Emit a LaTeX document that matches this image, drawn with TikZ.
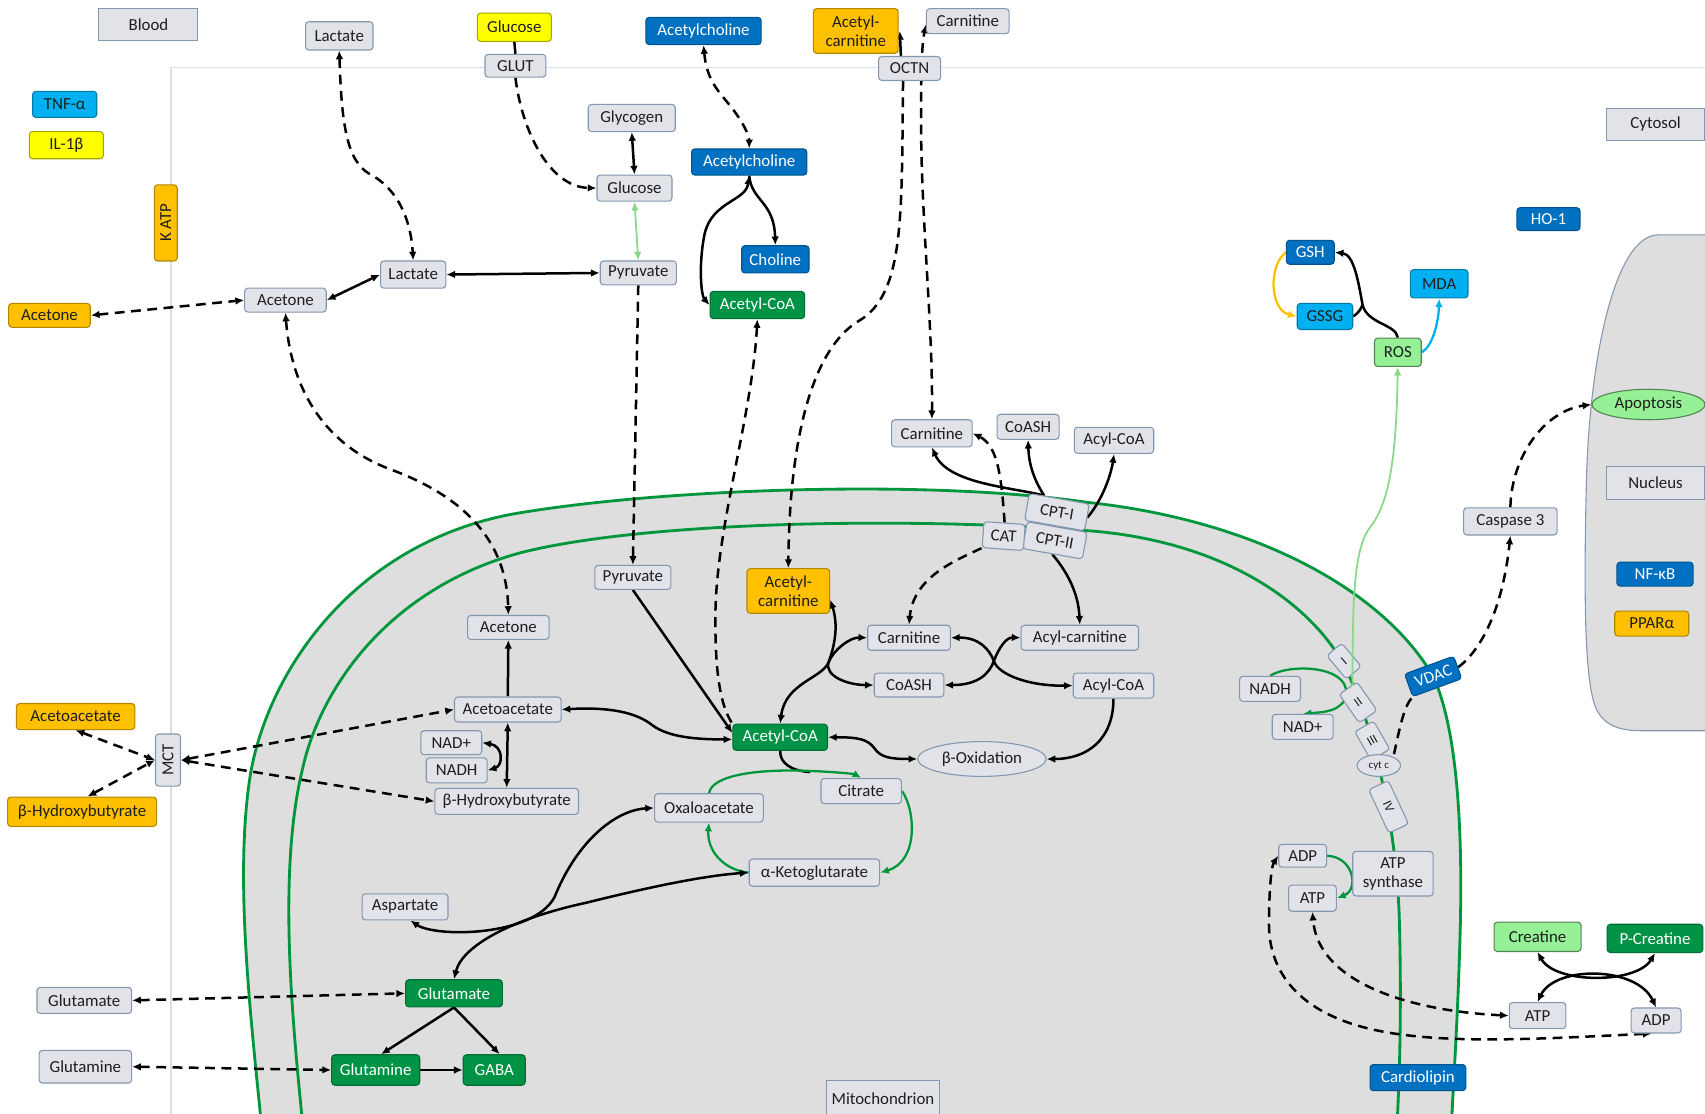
\documentclass[tikz,border=0pt]{standalone}
\usepackage{fontspec}
\setmainfont{Carlito}
\usetikzlibrary{arrows.meta,calc,shapes.geometric}
\pgfdeclarelayer{back}
\pgfdeclarelayer{conn}
\pgfsetlayers{back,conn,main}
\definecolor{boxfill}{RGB}{225,227,232}
\definecolor{boxdraw}{RGB}{132,151,176}
\definecolor{mitofill}{RGB}{222,222,222}
\definecolor{dblue}{RGB}{0,112,192}
\definecolor{lblue}{RGB}{0,176,240}
\definecolor{orng}{RGB}{255,192,0}
\definecolor{yell}{RGB}{255,255,0}
\definecolor{dgreen}{RGB}{0,146,69}
\definecolor{lgreen}{RGB}{150,240,150}
\definecolor{memgreen}{RGB}{0,150,60}
\definecolor{cytline}{RGB}{214,224,238}
\definecolor{txt}{RGB}{30,30,30}
\begin{document}
\begin{tikzpicture}[x=1pt,y=-1pt,
  every node/.style={font=\fontsize{15.5}{17}\selectfont, text=txt, inner sep=0pt, align=center},
  wh/.style 2 args={minimum width=#1pt, minimum height=#2pt},
  gbox/.style={draw=boxdraw, fill=boxfill, rounded corners=3pt, line width=1pt},
  sbox/.style={draw=boxdraw, fill=boxfill, line width=1pt},
  bbox/.style={draw=dblue!75!black, fill=dblue, text=white, rounded corners=3pt, line width=1pt},
  lbbox/.style={draw=lblue!70!black, fill=lblue, rounded corners=3pt, line width=1pt},
  obox/.style={draw=orng!70!black, fill=orng, rounded corners=3pt, line width=1pt},
  ybox/.style={draw=yell!65!black, fill=yell, rounded corners=3pt, line width=1pt},
  dgbox/.style={draw=dgreen!75!black, fill=dgreen, text=white, rounded corners=3pt, line width=1pt},
  lgbox/.style={draw=lgreen!55!black, fill=lgreen, rounded corners=3pt, line width=1pt},
  cplx/.style={gbox, font=\fontsize{12}{13}\selectfont},
  conn/.style={line width=2.3pt, draw=black},
  dconn/.style={conn, dash pattern=on 9pt off 6pt},
  gconn/.style={line width=2.1pt, draw=memgreen},
  lgconn/.style={line width=1.6pt, draw=lgreen!90!black},
  lbconn/.style={line width=2.1pt, draw=lblue},
  goldconn/.style={line width=2.1pt, draw=orng},
  >={Latex[length=8pt,width=7pt]},
]
\useasboundingbox (0,0) rectangle (1568,1024);

% ---------- background ----------
\begin{pgfonlayer}{back}
  \draw[cytline, line width=1.5pt] (1572,62) -- (157,62) -- (157,1030);
  \path[fill=mitofill] (240,1030) .. controls (230,930) and (215,800) .. (231,708)
     .. controls (250,610) and (330,500) .. (470,473)
     .. controls (600,450) and (850,440) .. (1000,462)
     .. controls (1150,478) and (1270,540) .. (1318,622)
     .. controls (1340,670) and (1345,760) .. (1343,850)
     .. controls (1341,930) and (1337,990) .. (1335,1030) -- cycle;
  \draw[memgreen, line width=2.6pt] (240,1030) .. controls (230,930) and (215,800) .. (231,708)
     .. controls (250,610) and (330,500) .. (470,473)
     .. controls (600,450) and (850,440) .. (1000,462)
     .. controls (1150,478) and (1270,540) .. (1318,622)
     .. controls (1340,670) and (1345,760) .. (1343,850)
     .. controls (1341,930) and (1337,990) .. (1335,1030);
  \draw[memgreen, line width=2.6pt] (278,1030) .. controls (268,930) and (256,800) .. (278,708)
     .. controls (295,630) and (360,540) .. (480,508)
     .. controls (600,478) and (850,476) .. (1000,488)
     .. controls (1120,497) and (1200,550) .. (1234,608)
     .. controls (1262,660) and (1285,760) .. (1287,850)
     .. controls (1289,930) and (1287,990) .. (1285,1030);
  \draw[boxdraw, fill=mitofill, line width=1pt] (1574,216) -- (1525,216)
     .. controls (1485,216) and (1462,330) .. (1459,440)
     .. controls (1456,560) and (1458,630) .. (1468,652)
     .. controls (1476,668) and (1490,672) .. (1510,672) -- (1574,672);
\end{pgfonlayer}

% ---------- nodes ----------
\node[sbox, wh={91}{29}] (blood) at (136.5,22.5) {Blood};
\node[gbox, wh={62}{26}] (lacT) at (312,33) {Lactate};
\node[ybox, wh={68}{26}] (gluY) at (473,25) {Glucose};
\node[gbox, wh={56}{21}] (glut) at (474,60.5) {GLUT};
\node[bbox, wh={106}{25}] (achT) at (647,28.5) {Acetylcholine};
\node[obox, wh={78}{41}] (acT) at (787,28.5) {Acetyl-\\carnitine};
\node[gbox, wh={76}{23}] (carT) at (890,19.5) {Carnitine};
\node[gbox, wh={57}{22}] (octn) at (836.5,63) {OCTN};
\node[lbbox, wh={59}{24}] (tnf) at (59.5,96) {TNF-α};
\node[ybox, wh={68}{25}] (il) at (61,133.5) {IL-1β};
\node[obox, rotate=90, wh={70}{21}] (katp) at (152.5,205) {K ATP};
\node[obox, wh={75}{22}] (aceO) at (45.5,290) {Acetone};
\node[gbox, wh={75}{22}] (aceG) at (262.5,276) {Acetone};
\node[gbox, wh={60}{25}] (lacM) at (380,252.5) {Lactate};
\node[gbox, wh={70}{22}] (pyrT) at (587,251) {Pyruvate};
\node[gbox, wh={80}{25}] (glyc) at (581,108.5) {Glycogen};
\node[gbox, wh={69}{24}] (gluG) at (583.5,173) {Glucose};
\node[bbox, wh={106}{24}] (achM) at (689,149) {Acetylcholine};
\node[bbox, wh={62}{25}] (chol) at (713,238.5) {Choline};
\node[dgbox, wh={87}{25}] (acoT) at (696.5,280.5) {Acetyl-CoA};
\node[sbox, wh={91}{29}] (cyto) at (1522.5,114.5) {Cytosol};
\node[bbox, wh={58}{21}] (ho) at (1424,201.5) {HO-1};
\node[bbox, wh={44}{22}] (gsh) at (1205,232) {GSH};
\node[lbbox, wh={51}{24}] (gssg) at (1218.5,291) {GSSG};
\node[lbbox, wh={53}{26}] (mda) at (1323.5,261) {MDA};
\node[lgbox, wh={43}{26}] (ros) at (1285.5,324) {ROS};
\node[ellipse, draw=lgreen!55!black, fill=lgreen, line width=1pt, wh={104}{28}] (apop) at (1516,372) {Apoptosis};
\node[sbox, wh={91}{30}] (nucl) at (1522.5,444) {Nucleus};
\node[bbox, wh={70}{22}] (nfkb) at (1522,528) {NF-κB};
\node[obox, wh={68}{23}] (ppar) at (1519,573.5) {PPARα};
\node[gbox, wh={86}{25}] (casp) at (1389,479.5) {Caspase 3};
\node[bbox, rotate=20, wh={48}{22}] (vdac) at (1318,622) {VDAC};
\node[gbox, wh={74}{25}] (carC) at (857,398.5) {Carnitine};
\node[gbox, wh={57}{23}] (coaC) at (945.5,392.5) {CoASH};
\node[gbox, wh={73}{24}] (acylC) at (1024.5,405) {Acyl-CoA};
\node[gbox, rotate=-10, wh={56}{25}] (cpt1) at (972,471) {CPT-I};
\node[gbox, rotate=-10, wh={56}{25}] (cpt2) at (970,497) {CPT-II};
\node[gbox, rotate=-4, wh={38}{24}] (cat) at (923,493) {CAT};
% mitochondrion interior
\node[gbox, wh={70}{22}] (pyrM) at (582,531) {Pyruvate};
\node[obox, wh={76}{41}] (acM) at (725,543.5) {Acetyl-\\carnitine};
\node[gbox, wh={75}{22}] (aceM) at (467.5,577) {Acetone};
\node[gbox, wh={76}{23}] (carM) at (836,586.5) {Carnitine};
\node[gbox, wh={108}{23}] (acylcar) at (993,586.5) {Acyl-carnitine};
\node[gbox, wh={64}{22}] (coaM) at (836,630) {CoASH};
\node[gbox, wh={74}{23}] (acylM) at (1024,630.5) {Acyl-CoA};
\node[gbox, wh={98}{23}] (aaM) at (467,652.5) {Acetoacetate};
\node[gbox, wh={56}{22}] (nadL) at (415,683) {NAD+};
\node[gbox, wh={56}{23}] (nadhL) at (420,708.5) {NADH};
\node[gbox, wh={132}{24}] (bhbM) at (466,737) {β-Hydroxybutyrate};
\node[dgbox, wh={87}{24}] (acoM) at (717.5,678) {Acetyl-CoA};
\node[ellipse, draw=boxdraw, fill=boxfill, line width=1pt, wh={118}{32}] (box) at (903,698) {β-Oxidation};
\node[gbox, wh={74}{23}] (cit) at (792,727.5) {Citrate};
\node[gbox, wh={100}{26}] (oaa) at (652,743) {Oxaloacetate};
\node[gbox, wh={120}{25}] (akg) at (749,802.5) {α-Ketoglutarate};
\node[gbox, wh={79}{24}] (asp) at (372.5,834) {Aspartate};
\node[dgbox, wh={89}{25}] (gluM) at (417.5,913.5) {Glutamate};
\node[dgbox, wh={81}{28}] (glnM) at (345.5,984) {Glutamine};
\node[dgbox, wh={57}{28}] (gaba) at (454.5,984) {GABA};
\node[gbox, wh={87}{24}] (gluL) at (77.5,920) {Glutamate};
\node[gbox, wh={85}{30}] (glnL) at (78.5,981) {Glutamine};
\node[obox, wh={109}{24}] (aaO) at (69.5,659) {Acetoacetate};
\node[obox, wh={137}{27}] (bhbO) at (75.5,746.5) {β-Hydroxybutyrate};
\node[gbox, rotate=90, wh={48}{23}] (mct) at (154.5,699) {MCT};
\node[gbox, wh={56}{23}] (nadhR) at (1168,633.5) {NADH};
\node[gbox, wh={56}{23}] (nadR) at (1198,668.5) {NAD+};
\node[cplx, rotate=40, wh={18}{28}] (c1) at (1236,608) {I};
\node[cplx, rotate=35, wh={20}{32}] (c2) at (1249,646) {II};
\node[cplx, rotate=30, wh={20}{30}] (c3) at (1262,681) {III};
\node[ellipse, draw=boxdraw, fill=boxfill, line width=1pt, wh={40}{20}, font=\fontsize{10}{12}\selectfont] (cytc) at (1268,704) {cyt c};
\node[cplx, rotate=-65, wh={44}{20}] (c4) at (1277,742) {IV};
\node[gbox, wh={44}{21}] (adpM) at (1198,787) {ADP};
\node[gbox, wh={44}{24}] (atpM) at (1207,826) {ATP};
\node[gbox, wh={74}{41}] (atps) at (1281,803.5) {ATP\\synthase};
\node[lgbox, wh={80}{27}] (crea) at (1414,861.5) {Creatine};
\node[dgbox, wh={88}{26}] (pcrea) at (1522,863) {P-Creatine};
\node[gbox, wh={52}{24}] (atpC) at (1414,934) {ATP};
\node[gbox, wh={46}{23}] (adpC) at (1523,938.5) {ADP};
\node[bbox, wh={88}{24}] (card) at (1304,991) {Cardiolipin};
\node[sbox, wh={104}{32}] (mitob) at (812,1010) {Mitochondrion};

% ---------- connectors ----------
\begin{pgfonlayer}{conn}
  \coordinate (octnB) at ($(octn.south)+(-6,0)$);
  \coordinate (cptA) at ($(cpt1.north west)!0.25!(cpt1.north east)$);
  % cytosol, left
  \draw[dconn,<->] (lacT.south) .. controls (314,110) and (318,148) .. (340,160) .. controls (368,175) and (378,205) .. (lacM.north);
  \draw[conn] (gluY.south) -- (glut.north);
  \draw[dconn,->] (glut.south) .. controls (480,120) and (505,172) .. (gluG.west);
  \draw[conn,<->] (glyc.south) -- (gluG.north);
  \draw[lgconn,<->] (gluG.south) -- (pyrT.north);
  \draw[conn,<->] (lacM.east) -- (pyrT.west);
  \draw[conn,<->] (aceG.east) -- (lacM.west);
  \draw[dconn,<->] (aceO.east) -- (aceG.west);
  \draw[dconn,<->] (aceG.south) .. controls (268,360) and (300,410) .. (360,432) .. controls (430,458) and (466,500) .. (aceM.north);
  \draw[dconn,<->] (achT.south) .. controls (650,75) and (662,85) .. (672,98) .. controls (684,113) and (689,125) .. (achM.north);
  \draw[conn,->] (achM.south) .. controls (691,185) and (712,185) .. (chol.north);
  \draw[conn,<->] (achM.south) .. controls (686,185) and (655,185) .. (648,215) .. controls (642,245) and (645,272) .. (acoT.west);
  \draw[dconn,<-] (acoT.south) .. controls (692,380) and (660,480) .. (658,560) .. controls (657,620) and (663,650) .. (acoM.north west);
  \draw[dconn,->] (pyrT.south) -- (pyrM.north);
  \draw[dconn,->] (octnB) .. controls (829,200) and (832,270) .. (790,295) .. controls (748,320) and (726,400) .. (acM.north);
  \draw[conn,->] ($(octn.north)+(-8,0)$) -- ($(acT.east)+(1,0)$);
  \draw[dconn,<->] (carC.north) .. controls (858,300) and (847,200) .. (847,110) .. controls (847,60) and (848,40) .. ($(carT.west)+(0,3)$);
  % carnitine shuttle
  \draw[conn,->] (cptA) .. controls (930,448) and (872,445) .. (carC.south);
  \draw[conn,->] (cptA) .. controls (950,440) and (946,425) .. (coaC.south);
  \draw[conn,->] (cpt1.east) .. controls (1015,458) and (1022,435) .. (acylC.south);
  \draw[dconn,->] (cat.north) .. controls (921,440) and (918,410) .. (carC.east);
  \draw[dconn,->] (cat.south west) .. controls (880,515) and (840,530) .. (carM.north);
  \draw[conn,->] (cpt2.south) .. controls (985,530) and (992,550) .. (acylcar.north);
  \draw[conn,<->] (carM.east) .. controls (900,586) and (910,597) .. (914,608) .. controls (918,620) and (945,631) .. (acylM.west);
  \draw[conn,<->] (coaM.east) .. controls (900,630) and (910,619) .. (914,608) .. controls (918,597) and (925,586) .. (acylcar.west);
  \draw[conn,<->] ($(acM.east)+(0,8)$) .. controls (772,578) and (766,598) .. (762,609) .. controls (758,622) and (780,630) .. (coaM.west);
  \draw[conn,<->] (carM.west) .. controls (782,586) and (767,597) .. (762,609) .. controls (756,624) and (722,628) .. (acoM.north);
  \draw[conn,->] (acylM.south) .. controls (1024,680) and (1000,698) .. (box.east);
  \draw[conn,<->] (acoM.east) .. controls (790,678) and (798,680) .. (804,688) .. controls (810,697) and (820,698) .. (box.west);
  % mitochondrial matrix
  \draw[conn,->] (pyrM.south) -- ($(acoM.west)+(0,-4)$);
  \draw[conn,<->] (aaM.east) .. controls (560,650) and (585,655) .. (600,667) .. controls (615,678) and (640,680) .. ($(acoM.west)+(0,2)$);
  \draw[conn] (acoM.south) .. controls (717,702) and (728,709) .. (745,710);
  \draw[gconn,->] (oaa.north) .. controls (655,712) and (700,707) .. (745,709) .. controls (772,710) and (786,712) .. (cit.north);
  \draw[gconn,->] (cit.east) .. controls (842,745) and (845,792) .. (akg.east);
  \draw[gconn,->] (akg.west) .. controls (665,800) and (650,782) .. (oaa.south);
  \draw[conn,<->] ($(asp.south)+(5,0)$) .. controls (400,862) and (490,862) .. (510,825) .. controls (530,775) and (565,745) .. (oaa.west);
  \draw[conn,<->] (gluM.north) .. controls (425,870) and (470,845) .. (540,830) .. controls (600,815) and (650,805) .. (akg.west);
  \draw[conn,->] (aaM.north) -- (aceM.south);
  \draw[conn,<->] (aaM.south) -- (bhbM.north);
  \draw[conn,<->] (nadL.east) .. controls (463,686) and (463,704) .. (nadhL.east);
  \draw[dconn,<->] (mct.south) -- (aaM.west);
  \draw[dconn,<->] (mct.south) -- (bhbM.west);
  \draw[dconn,<->] (aaO.south) -- (mct.north);
  \draw[dconn,<->] ($(bhbO.north)+(5,0)$) -- (mct.north);
  \draw[dconn,<->] (gluL.east) -- (gluM.west);
  \draw[dconn,<->] (glnL.east) -- (glnM.west);
  \draw[conn,->] (gluM.south) -- ($(glnM.north)+(5,0)$);
  \draw[conn,->] (gluM.south) -- ($(gaba.north)+(5,0)$);
  \draw[conn,->] (glnM.east) -- (gaba.west);
  % right side
  \draw[conn] (gssg.east) .. controls (1249,288) and (1252,284) .. (1253,280);
  \draw[conn,->] (ros.north) .. controls (1284,298) and (1257,298) .. (1253,280) .. controls (1249,258) and (1245,234) .. (gsh.east);
  \draw[goldconn,->] (gsh.west) .. controls (1166,245) and (1168,285) .. (gssg.west);
  \draw[lbconn,->] (ros.east) .. controls (1318,318) and (1323,295) .. (mda.south);
  \draw[dconn,->] (vdac.east) .. controls (1362,598) and (1382,560) .. (casp.south);
  \draw[dconn,->] (casp.north) .. controls (1390,420) and (1420,378) .. (apop.west);
  \draw[dconn] ($(cytc.north)+(14,0)$) .. controls (1288,665) and (1292,648) .. (vdac.south west);
  \draw[gconn,->] (nadhR.north) .. controls (1186,610) and (1240,612) .. (1238,638) .. controls (1236,655) and (1215,655) .. (nadR.north);
  \draw[gconn,->] (adpM.east) .. controls (1245,788) and (1250,818) .. (atpM.east);
  \draw[dconn,<->] (atpC.west) .. controls (1300,930) and (1212,905) .. (atpM.south);
  \draw[dconn,<->] ($(adpC.south)+(-4,0)$) .. controls (1420,955) and (1320,962) .. (1255,945) .. controls (1190,928) and (1167,890) .. (1167,850) .. controls (1167,820) and (1169,797) .. (adpM.west);
  \draw[conn,<->] (crea.south) .. controls (1430,905) and (1505,905) .. (pcrea.south);
  \draw[conn,<->] (atpC.north) .. controls (1430,888) and (1505,888) .. (adpC.north);
\end{pgfonlayer}
% light green ROS line drawn over complex I
\draw[lgconn,->] ($(c1)!0.6!(c2)$) .. controls (1244,560) and (1244,505) .. (1260,485) .. controls (1278,462) and (1284,420) .. (ros.south);
\end{tikzpicture}
\end{document}
